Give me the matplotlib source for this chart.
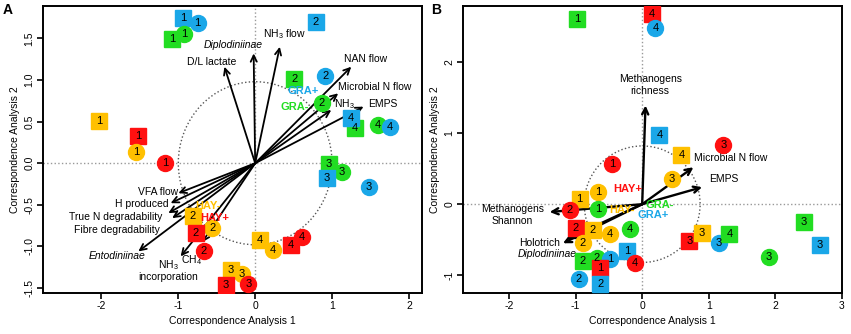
import numpy as np
import matplotlib
matplotlib.use('Agg')
import matplotlib.pyplot as plt
from matplotlib.patches import Ellipse

plt.rcParams['font.family'] = ['Liberation Sans', 'DejaVu Sans']
plt.rcParams['mathtext.fontset'] = 'custom'
plt.rcParams['mathtext.rm'] = 'Liberation Sans'
plt.rcParams['mathtext.it'] = 'Liberation Sans:italic'
plt.rcParams['axes.unicode_minus'] = False

col = {'HAY+': '#FF1010', 'HAY-': '#FFC000', 'GRA+': '#1AA7E8', 'GRA-': '#22DD22'}

# ---- panel A samples ----
a_grp = ['GRA+', 'GRA+', 'GRA-', 'GRA-', 'HAY-', 'HAY+', 'HAY-', 'HAY+',
         'GRA+', 'GRA-', 'GRA+', 'GRA-', 'GRA-', 'GRA+', 'GRA-', 'GRA+',
         'GRA-', 'GRA-', 'GRA+', 'GRA+', 'HAY-', 'HAY-', 'HAY+', 'HAY+',
         'HAY-', 'HAY-', 'HAY+', 'HAY+', 'HAY-', 'HAY-', 'HAY+', 'HAY+']
a_shape = ['s', 'o', 's', 'o', 's', 's', 'o', 'o',
           's', 's', 'o', 'o', 's', 's', 'o', 'o',
           's', 'o', 's', 'o', 's', 'o', 's', 'o',
           's', 'o', 's', 'o', 's', 'o', 's', 'o']
a_num = [1, 1, 1, 1, 1, 1, 1, 1,
         2, 2, 2, 2, 4, 4, 4, 4,
         3, 3, 3, 3, 4, 4, 4, 4,
         3, 3, 3, 3, 2, 2, 2, 2]
a_x = [-0.94, -0.75, -1.08, -0.92, -2.03, -1.52, -1.55, -1.17,
       0.79, 0.51, 0.91, 0.87, 1.30, 1.25, 1.60, 1.75,
       0.96, 1.13, 0.93, 1.48, 0.06, 0.23, 0.46, 0.61,
       -0.32, -0.17, -0.38, -0.09, -0.81, -0.56, -0.77, -0.67]
a_y = [1.74, 1.69, 1.49, 1.55, 0.51, 0.33, 0.13, 0.00,
       1.70, 1.01, 1.05, 0.72, 0.42, 0.54, 0.46, 0.43,
       -0.01, -0.11, -0.18, -0.29, -0.92, -1.04, -0.98, -0.89,
       -1.28, -1.33, -1.46, -1.45, -0.64, -0.78, -0.84, -1.05]

# panel A variables (arrow tips)
a_tip_x = [-0.40, -0.02, 0.32, 1.25, 1.08, 0.99, 1.41, -1.00, -1.10, -1.13, -1.08, -1.52, -0.97, -0.69]
a_tip_y = [1.16, 1.32, 1.40, 1.16, 0.84, 0.64, 0.68, -0.36, -0.48, -0.60, -0.66, -1.06, -1.12, -0.95]
# panel A variable labels
a_var = ['D/L lactate', 'Diplodiniinae', 'NH$_3$ flow', 'NAN flow',
         'Microbial N flow', 'NH$_3$', 'EMPS', 'VFA flow', 'H produced',
         'True N degradability', 'Fibre degradability', 'Entodiniinae',
         'NH$_3$', 'incorporation', 'CH$_4$']
a_lab_x = [-0.57, -0.29, 0.38, 1.44, 1.55, 1.16, 1.66, -1.26, -1.47, -1.81, -1.80, -1.80, -1.13, -1.13, -0.83]
a_lab_y = [1.22, 1.42, 1.55, 1.25, 0.92, 0.71, 0.71, -0.35, -0.49, -0.65, -0.80, -1.11, -1.22, -1.37, -1.16]
a_italic = ['Diplodiniinae', 'Entodiniinae']

a_trt = ['GRA+', 'GRA-', 'HAY-', 'HAY+']
a_trt_x = [0.62, 0.52, -0.61, -0.52]
a_trt_y = [0.87, 0.67, -0.51, -0.66]

# ---- panel B samples ----
b_grp = ['GRA-', 'HAY+', 'HAY+', 'GRA+', 'GRA+', 'HAY+', 'HAY-', 'HAY-',
         'GRA-', 'GRA+', 'HAY+', 'HAY+', 'HAY-', 'GRA+', 'GRA-', 'GRA-',
         'GRA-', 'GRA+', 'HAY-', 'HAY-', 'HAY+', 'GRA-', 'HAY+', 'HAY-',
         'HAY-', 'HAY-', 'GRA-', 'GRA-', 'GRA+', 'HAY+', 'GRA+', 'GRA+']
b_shape = ['s', 'o', 's', 'o', 's', 'o', 's', 'o',
           'o', 's', 'o', 's', 's', 'o', 's', 'o',
           's', 's', 'o', 's', 'o', 'o', 's', 's',
           'o', 'o', 's', 'o', 'o', 's', 'o', 's']
b_num = [1, 1, 4, 4, 4, 3, 4, 3,
         4, 1, 4, 3, 3, 3, 4, 3,
         3, 3, 1, 1, 2, 1, 2, 2,
         4, 2, 2, 2, 1, 1, 2, 2]
b_x = [-0.98, -0.45, 0.14, 0.20, 0.26, 1.22, 0.59, 0.45,
       -0.18, -0.23, -0.11, 0.71, 0.90, 1.15, 1.31, 1.90,
       2.43, 2.67, -0.66, -0.94, -1.09, -0.66, -1.00, -0.74,
       -0.48, -0.89, -0.89, -0.68, -0.48, -0.63, -0.95, -0.63]
b_y = [2.61, 0.56, 2.68, 2.48, 0.97, 0.84, 0.69, 0.36,
       -0.35, -0.66, -0.83, -0.52, -0.40, -0.55, -0.42, -0.74,
       -0.25, -0.58, 0.17, 0.08, -0.08, -0.07, -0.34, -0.37,
       -0.42, -0.55, -0.80, -0.76, -0.77, -0.90, -1.05, -1.13]

b_tip_x = [0.05, 0.77, 0.90, -1.39, -1.19, -1.13]
b_tip_y = [1.39, 0.52, 0.24, -0.11, -0.55, -0.49]
b_var = ['Methanogens\nrichness', 'Microbial N flow', 'EMPS',
         'Methanogens\nShannon', 'Holotrich', 'Diplodiniinae']
b_lab_x = [0.12, 1.33, 1.22, -1.95, -1.54, -1.42]
b_lab_y = [1.68, 0.65, 0.35, -0.155, -0.54, -0.70]
b_italic = ['Diplodiniinae']

b_trt_x = [0.17, 0.26, -0.30, -0.21]
b_trt_y = [-0.15, -0.01, -0.08, 0.21]


def draw_panel(ax, grp, shape, num, xs, ys, tx, ty, var, lx, ly, italic,
               trt_x, trt_y, radius, arrow_lw):
    ax.axhline(0, color='#999999', ls=':', lw=1, zorder=1)
    ax.axvline(0, color='#999999', ls=':', lw=1, zorder=1)
    ax.add_patch(Ellipse((0, 0), 2 * radius[0], 2 * radius[1], fill=False,
                         ls=':', lw=1, color='#555555', zorder=1))
    for i in range(len(tx)):
        ax.annotate('', xy=(tx[i], ty[i]), xytext=(0, 0),
                    arrowprops=dict(arrowstyle='->,head_length=0.45,head_width=0.22',
                                    lw=arrow_lw, color='black',
                                    shrinkA=0, shrinkB=0), zorder=2)
    for i in range(len(var)):
        ax.text(lx[i], ly[i], var[i], ha='center', va='center', fontsize=7.5,
                style='italic' if var[i] in italic else 'normal',
                linespacing=1.3, zorder=3)
    for i in range(len(xs)):
        ax.plot(xs[i], ys[i], marker=shape[i], ms=11.5, color=col[grp[i]],
                mec=col[grp[i]], ls='none', zorder=4)
        ax.text(xs[i], ys[i], str(num[i]), ha='center', va='center',
                fontsize=8, zorder=5)
    for name, x, y in zip(a_trt, trt_x, trt_y):
        ax.text(x, y, name, color=col[name], fontsize=8, fontweight='bold',
                ha='center', va='center', zorder=6)
    ax.set_xlabel('Correspondence Analysis 1', fontsize=7.5, labelpad=3)
    ax.set_ylabel('Correspondence Analysis 2', fontsize=7.5, labelpad=3)
    for s in ax.spines.values():
        s.set_linewidth(1.4)
    ax.tick_params(direction='out', length=4, width=1.2, labelsize=7.5, pad=2)
    for t in ax.get_yticklabels():
        t.set_rotation(90)
        t.set_va('center')


fig = plt.figure(figsize=(8.51, 3.34), dpi=100)
axA = fig.add_axes([43 / 851, 41 / 334, 379 / 851, 287 / 334])
axB = fig.add_axes([463 / 851, 41 / 334, 379 / 851, 287 / 334])

axA.set_xlim(-2.76, 2.17)
axA.set_ylim(-1.56, 1.89)
axA.set_xticks([-2, -1, 0, 1, 2])
axA.set_yticks([-1.5, -1.0, -0.5, 0.0, 0.5, 1.0, 1.5])
axA.set_yticklabels(['-1.5', '-1.0', '-0.5', '0.0', '0.5', '1.0', '1.5'])
draw_panel(axA, a_grp, a_shape, a_num, a_x, a_y, a_tip_x, a_tip_y, a_var,
           a_lab_x, a_lab_y, a_italic, a_trt_x, a_trt_y, (1.0, 0.98), 1.3)

axB.set_xlim(-2.69, 3.0)
axB.set_ylim(-1.25, 2.79)
axB.set_xticks([-2, -1, 0, 1, 2, 3])
axB.set_yticks([-1, 0, 1, 2])
draw_panel(axB, b_grp, b_shape, b_num, b_x, b_y, b_tip_x, b_tip_y, b_var,
           b_lab_x, b_lab_y, b_italic, b_trt_x, b_trt_y, (0.87, 0.82), 1.7)

fig.text(3 / 851, 1 - 3 / 334, 'A', fontsize=10, fontweight='bold', va='top')
fig.text(431 / 851, 1 - 3 / 334, 'B', fontsize=10, fontweight='bold', va='top')

plt.savefig('out.png', dpi=100)
